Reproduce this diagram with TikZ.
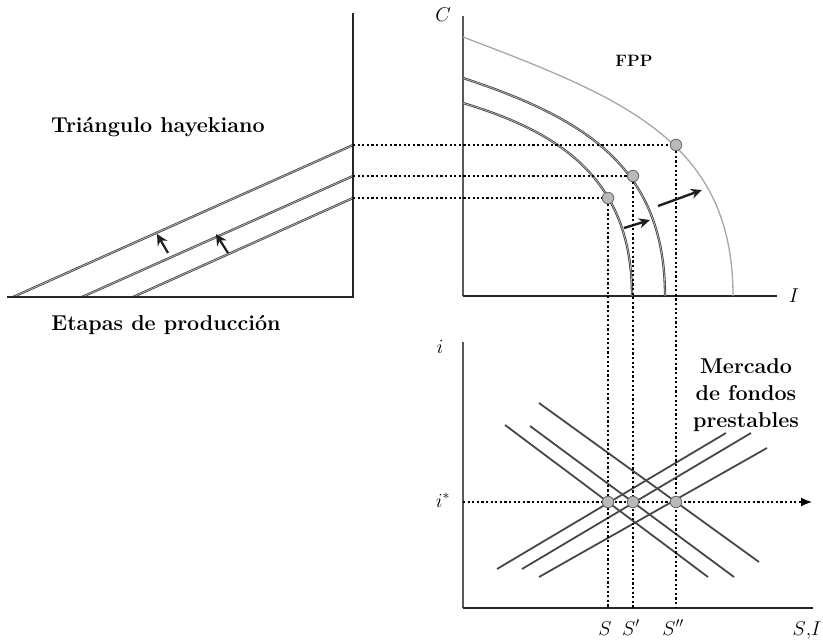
\RequirePackage{fix-cm}
\documentclass[tikz,border=0pt]{standalone}
\usepackage{fontspec}
\setmainfont{Latin Modern Roman}
\usetikzlibrary{arrows.meta}
\begin{document}
\begin{tikzpicture}[x=1pt,y=-1pt,
  axis/.style={draw=black!85,line width=1.6pt},
  vaxis/.style={draw=black!65,line width=1.1pt},
  dbl/.style={draw=black!72,double=gray!45,double distance=0.6pt,line width=0.85pt},
  outer/.style={draw=gray!70,line width=1.3pt},
  mkt/.style={draw=black!72,line width=1.8pt},
  dotline/.style={draw=black,line width=1.2pt,dash pattern=on 2.2pt off 2.4pt},
  dot/.style={circle,draw=black!60,fill=gray!55,line width=0.8pt,inner sep=0pt,minimum size=11.5pt},
  bigarrow/.style={draw=black!88,line width=2.4pt,-{Stealth[length=11pt,width=10pt]}},
  cursor/.style={draw=black!88,line width=2.2pt,-{Stealth[length=11pt,width=11pt]}},
  blabel/.style={font=\fontsize{21.5}{25}\selectfont\bfseries,inner sep=0pt},
  ilabel/.style={font=\fontsize{20}{23}\selectfont,inner sep=0pt,anchor=base}]
\useasboundingbox (0,0) rectangle (823,642);

% ---------- triangle ----------
\coordinate (tv0) at (353,13);
\coordinate (tv1) at (353,297);
\coordinate (th0) at (7,297);
\coordinate (a1) at (13,297);
\coordinate (a2) at (82,297);
\coordinate (a3) at (133,297);
\coordinate (t1) at (353,145);
\coordinate (t2) at (353,176);
\coordinate (t3) at (353,198);
\draw[dbl] (a1) -- (t1);
\draw[dbl] (a2) -- (t2);
\draw[dbl] (a3) -- (t3);
\draw[axis] (tv0) -- (tv1) -- (th0);
\coordinate (c1s) at (168,253); \coordinate (c1e) at (157,234);
\coordinate (c2s) at (228,253); \coordinate (c2e) at (216,234);
\draw[cursor] (c1s) -- (c1e);
\draw[cursor] (c2s) -- (c2e);
\node[blabel,anchor=base] (tri) at (158,132) {Triángulo hayekiano};
\node[blabel,anchor=base] (eta) at (166,330) {Etapas de producción};

% ---------- FPP ----------
\coordinate (fo) at (463,296);
\coordinate (fv) at (463,16);
\coordinate (fh) at (777,296);
\draw[vaxis] (fv) -- (fo);
\draw[axis] (fo) -- (fh);
\node[ilabel] (lC) at (443,22) {$C$};
\node[ilabel] (lI) at (794,302) {$I$};
\node[blabel,font=\fontsize{16.5}{20}\selectfont\bfseries,anchor=base] (fpp) at (634,67) {FPP};

\coordinate (o0) at (463,37);
\coordinate (o3) at (733,296);
\coordinate (m0) at (463,78);
\coordinate (m3) at (665,296);
\coordinate (n0) at (463,103);
\coordinate (n3) at (632,296);
\draw[outer] (o0) .. controls (623,97.8) and (733,141) .. (o3);
\draw[dbl] (m0) .. controls (583,117.6) and (665,166) .. (m3);
\draw[dbl] (n0) .. controls (563,133) and (632,181) .. (n3);

\coordinate (f1s) at (624,228); \coordinate (f1e) at (650,220);
\coordinate (f2s) at (658,206); \coordinate (f2e) at (702,190);
\draw[bigarrow] (f1s) -- (f1e);
\draw[bigarrow] (f2s) -- (f2e);

% ---------- loanable funds ----------
\coordinate (lo) at (463,608);
\coordinate (lv) at (463,342);
\coordinate (lh) at (813,608);
\draw[vaxis] (lv) -- (lo);
\draw[axis] (lo) -- (lh);
\node[ilabel] (li) at (440,353) {$i$};
\node[ilabel] (lis) at (443,507) {$i^{*}$};
\node[ilabel] (lSI) at (807,635) {$S{,}I$};
\node[ilabel] (lS) at (605,635) {$S$};
\node[ilabel] (lS1) at (631,635) {$S'$};
\node[ilabel] (lS2) at (673,635) {$S''$};
\node[blabel,align=center,anchor=north,font=\fontsize{21.5}{27}\selectfont\bfseries] (mkt) at (746,358) {Mercado\\de fondos\\prestables};

\draw[mkt] (505,425) -- (708,577);
\draw[mkt] (530,426) -- (734,577);
\draw[mkt] (539,403) -- (759,562);
\draw[mkt] (497,569) -- (726,433);
\draw[mkt] (522,569) -- (751,433);
\draw[mkt] (539,577) -- (767,448);

% ---------- dotted guides ----------
\coordinate (q1) at (608,608);
\coordinate (q2) at (633,608);
\coordinate (q3) at (676,608);
\coordinate (ia) at (463,502);
\coordinate (ib) at (812,502);
\node[dot] (p1) at (608,198) {};
\node[dot] (p2) at (633,176) {};
\node[dot] (p3) at (676,145) {};
\draw[dotline] (t3) -- (p1.west);
\draw[dotline] (t2) -- (p2.west);
\draw[dotline] (t1) -- (p3.west);
\draw[dotline] (p1.south) -- (q1);
\draw[dotline] (p2.south) -- (q2);
\draw[dotline] (p3.south) -- (q3);
\draw[dotline,-{Latex[length=11pt,width=9pt]}] (ia) -- (ib);
\node[dot] (e1) at (608,502) {};
\node[dot] (e2) at (633,502) {};
\node[dot] (e3) at (676,502) {};
\end{tikzpicture}
\end{document}
